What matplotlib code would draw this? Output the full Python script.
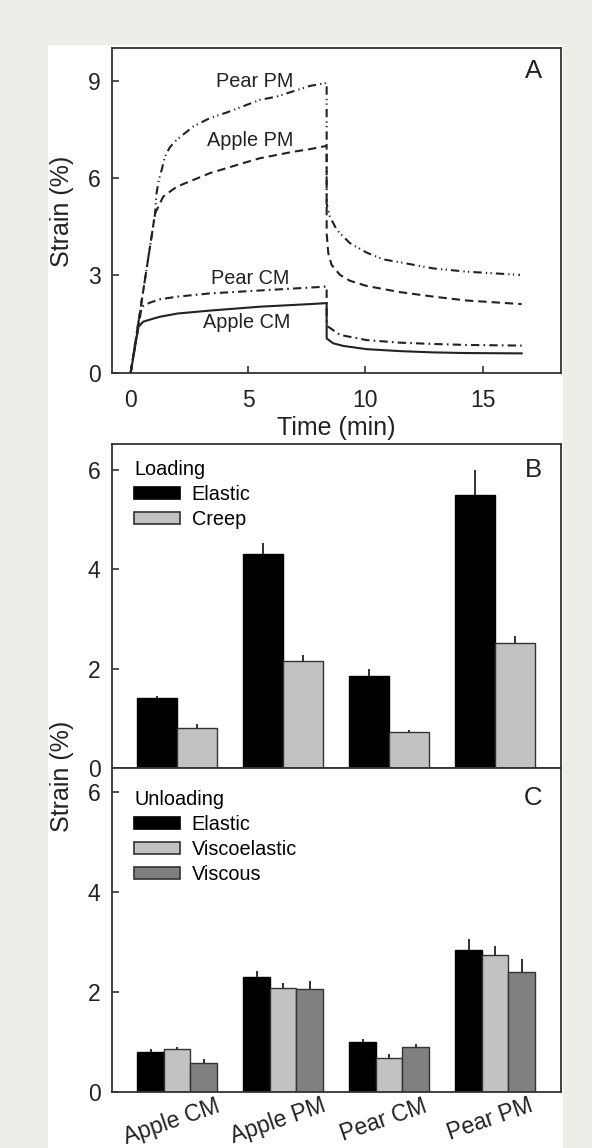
import matplotlib
matplotlib.use("Agg")
import matplotlib.pyplot as plt
from matplotlib.patches import Patch, Rectangle
import numpy as np

plt.rcParams['font.family'] = ['Liberation Sans', 'DejaVu Sans']

# creep / recovery curves (time in min, strain in %)
t_apple_cm = [0, 0.33, 0.54, 1.0, 1.25, 2.0, 3.38, 5.51, 7.64, 8.35, 8.35, 8.63, 9.06, 10.05, 11.47, 12.9, 14.32, 16.66]
s_apple_cm = [0, 1.41, 1.57, 1.67, 1.72, 1.82, 1.91, 2.03, 2.11, 2.14, 1.05, 0.90, 0.82, 0.72, 0.66, 0.62, 0.60, 0.59]

t_pear_cm = [0, 0.47, 0.8, 1.25, 2.0, 3.38, 5.51, 7.64, 8.35, 8.35, 8.42, 8.92, 10.05, 11.47, 12.9, 14.32, 16.66]
s_pear_cm = [0, 2.03, 2.15, 2.26, 2.34, 2.44, 2.53, 2.62, 2.65, 1.60, 1.41, 1.16, 1.00, 0.92, 0.88, 0.85, 0.83]

t_apple_pm = [0, 1.04, 1.39, 1.96, 2.67, 3.38, 4.8, 5.51, 6.93, 7.64, 8.35, 8.35, 8.42, 8.56, 8.92, 9.34, 10.05, 11.47, 12.9, 14.32, 16.66]
s_apple_pm = [0, 4.91, 5.43, 5.73, 5.94, 6.15, 6.46, 6.61, 6.81, 6.89, 6.99, 4.3, 3.68, 3.32, 3.01, 2.83, 2.67, 2.48, 2.34, 2.22, 2.11]

t_pear_pm = [0, 1.04, 1.1, 1.2, 1.32, 1.46, 1.67, 1.96, 2.67, 3.38, 4.09, 5.51, 6.22, 7.64, 8.35, 8.35, 8.49, 8.78, 9.34, 10.05, 10.76, 11.47, 12.9, 14.32, 16.59]
s_pear_pm = [0, 4.91, 5.53, 5.95, 6.25, 6.66, 6.95, 7.18, 7.59, 7.85, 8.02, 8.41, 8.51, 8.84, 8.93, 5.2, 4.81, 4.40, 3.99, 3.70, 3.49, 3.40, 3.21, 3.11, 3.01]

curve_names = ['Apple CM', 'Pear CM', 'Apple PM', 'Pear PM']
curve_label_t = [4.94, 5.11, 5.08, 5.27]
curve_label_s = [1.36, 2.73, 6.99, 8.80]

# loading / unloading components
groups = ['Apple CM', 'Apple PM', 'Pear CM', 'Pear PM']
load_elastic = [1.41, 4.31, 1.86, 5.50]
load_elastic_err = [0.04, 0.22, 0.13, 0.50]
load_creep = [0.82, 2.16, 0.72, 2.51]
load_creep_err = [0.07, 0.12, 0.04, 0.15]

unload_elastic = [0.81, 2.31, 1.01, 2.84]
unload_elastic_err = [0.05, 0.12, 0.05, 0.22]
unload_viscoel = [0.86, 2.09, 0.69, 2.74]
unload_viscoel_err = [0.05, 0.10, 0.07, 0.19]
unload_viscous = [0.59, 2.06, 0.91, 2.40]
unload_viscous_err = [0.08, 0.17, 0.05, 0.26]

W, H = 592, 1148
fig = plt.figure(figsize=(W / 100, H / 100), dpi=100)
fig.patch.set_facecolor('#eeeee8')
fig.patches.append(Rectangle((48 / W, 0), (563 - 48) / W, 1 - 45 / H,
                             transform=fig.transFigure, facecolor='white',
                             edgecolor='none', zorder=-10))

INK = '#222222'
left = 111.7 / W
width = (561.3 - 111.7) / W

def px_axes(top, bottom):
    return fig.add_axes([left, 1 - bottom / H, width, (bottom - top) / H])

def style(ax):
    for s in ax.spines.values():
        s.set_color('#333333')
        s.set_linewidth(1.3)
    ax.tick_params(direction='in', length=5, width=1.2, colors='#333333',
                   labelcolor=INK, labelsize=16.5, top=False, right=False)
    ax.tick_params(axis='y', pad=8)

def add_legend(ax, handles, labels, title, anchor_y):
    ax.legend(handles, labels, title=title, loc='upper left',
              bbox_to_anchor=(0.05, anchor_y), borderaxespad=0, borderpad=0,
              frameon=False, fontsize=14.3, title_fontsize=14.3,
              handlelength=2.3, handleheight=0.55, handletextpad=0.6,
              labelspacing=0.3, alignment='left')

# ---- A: strain vs time
axA = px_axes(48.3, 372.5)
style(axA)
lw = 1.5
axA.plot(t_apple_cm, s_apple_cm, color=INK, lw=lw, ls='-')
axA.plot(t_pear_cm, s_pear_cm, color=INK, lw=lw, ls=(0, (4.0, 2.0, 0.8, 2.0)))
axA.plot(t_apple_pm, s_apple_pm, color=INK, lw=lw, ls=(0, (4.0, 2.4)))
axA.plot(t_pear_pm, s_pear_pm, color=INK, lw=lw, ls=(0, (4.0, 2.0, 0.6, 1.6, 0.6, 2.0)))
for name, tx, sy in zip(curve_names, curve_label_t, curve_label_s):
    axA.text(tx, sy, name, ha='center', va='baseline', fontsize=14.3, color=INK)
axA.set_xlim(-0.81, 18.35)
axA.set_ylim(0, 10)
axA.set_xticks([0, 5, 10, 15])
axA.set_yticks([0, 3, 6, 9])
axA.tick_params(axis='x', pad=12)
axA.set_xlabel('Time (min)', fontsize=18, color=INK, labelpad=3)
axA.text(0.938, 0.93, 'A', transform=axA.transAxes, ha='center', va='center',
         fontsize=18.5, color=INK)

x = np.arange(len(groups))
EDGE = '#333333'
LIGHT = '#c2c2c2'
DARK = '#808080'
err_kw = dict(ecolor=INK, elinewidth=1.3, capsize=0)

def upper(err):
    return [np.zeros(len(err)), err]

# ---- B: loading
axB = px_axes(444.0, 768.3)
style(axB)
bw = 0.375
axB.bar(x - bw / 2, load_elastic, bw, color='black', edgecolor='black', lw=1.0,
        yerr=upper(load_elastic_err), error_kw=err_kw)
axB.bar(x + bw / 2, load_creep, bw, color=LIGHT, edgecolor=EDGE, lw=1.0,
        yerr=upper(load_creep_err), error_kw=err_kw)
axB.set_xlim(-0.616, 3.625)
axB.set_ylim(0, 6.52)
axB.set_yticks([0, 2, 4, 6])
axB.set_xticks([])
axB.text(0.938, 0.92, 'B', transform=axB.transAxes, ha='center', va='center',
         fontsize=18.5, color=INK)
add_legend(axB,
           [Patch(facecolor='black', edgecolor='black', lw=1.2),
            Patch(facecolor=LIGHT, edgecolor=EDGE, lw=1.2)],
           ['Elastic', 'Creep'], 'Loading', 0.951)

# ---- C: unloading
axC = px_axes(768.3, 1092.2)
style(axC)
cw = 0.25
axC.bar(x - cw, unload_elastic, cw, color='black', edgecolor='black', lw=1.0,
        yerr=upper(unload_elastic_err), error_kw=err_kw)
axC.bar(x, unload_viscoel, cw, color=LIGHT, edgecolor=EDGE, lw=1.0,
        yerr=upper(unload_viscoel_err), error_kw=err_kw)
axC.bar(x + cw, unload_viscous, cw, color=DARK, edgecolor=EDGE, lw=1.0,
        yerr=upper(unload_viscous_err), error_kw=err_kw)
axC.set_xlim(-0.616, 3.625)
axC.set_ylim(0, 6.48)
axC.set_yticks([0, 2, 4, 6])
axC.set_xticks(x - 0.05)
axC.set_xticklabels(groups, rotation=19, ha='center')
axC.tick_params(axis='x', length=0, pad=1.5)
axC.text(0.938, 0.908, 'C', transform=axC.transAxes, ha='center', va='center',
         fontsize=18.5, color=INK)
add_legend(axC,
           [Patch(facecolor='black', edgecolor='black', lw=1.2),
            Patch(facecolor=LIGHT, edgecolor=EDGE, lw=1.2),
            Patch(facecolor=DARK, edgecolor=EDGE, lw=1.2)],
           ['Elastic', 'Viscoelastic', 'Viscous'], 'Unloading', 0.933)

fig.text(62 / W, 1 - 211 / H, 'Strain (%)', rotation=90, ha='center', va='center',
         fontsize=18, color=INK)
fig.text(62 / W, 1 - 776 / H, 'Strain (%)', rotation=90, ha='center', va='center',
         fontsize=18, color=INK)

fig.savefig('out.png', dpi=100, facecolor=fig.get_facecolor())
